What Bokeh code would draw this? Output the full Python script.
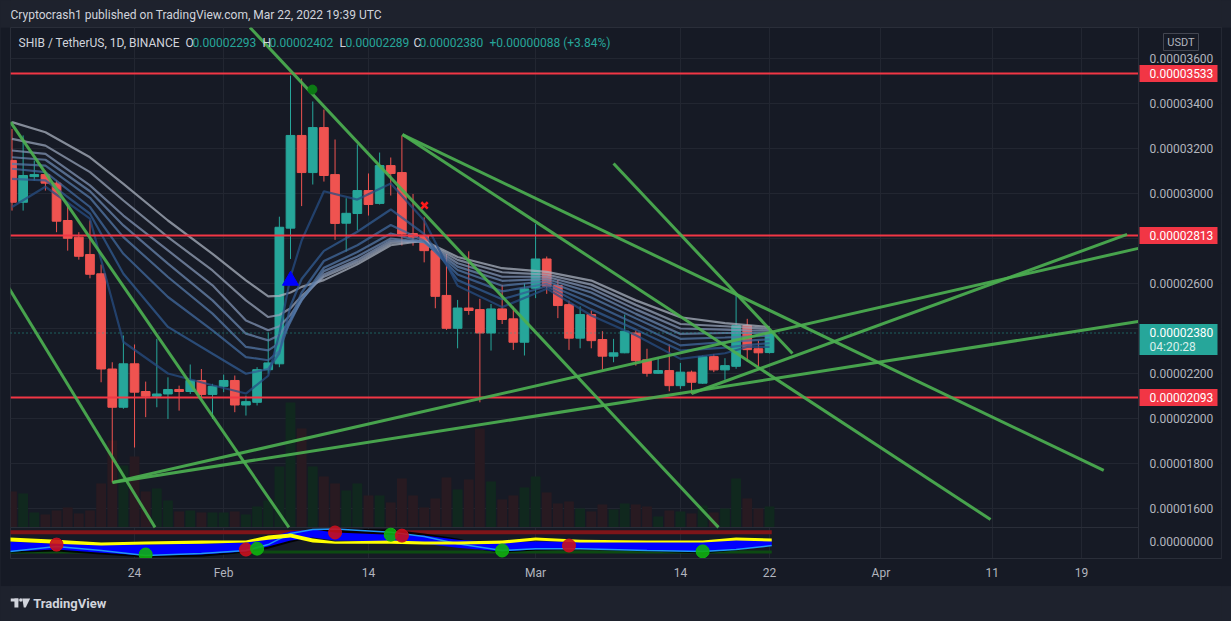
import numpy as np
from bokeh.plotting import figure
from bokeh.layouts import column
from bokeh.models import Range1d, FixedTicker, CustomJSTickFormatter, ColumnDataSource
from bokeh.core.properties import value
from bokeh.embed import file_html
from bokeh.resources import INLINE

# ---------------- data (prices in units of 1e-8 USDT) ----------------
# day index 0 = 13 Jan 2022 ... 68 = 22 Mar 2022
OPEN = [3147, 2961, 3075, 3084, 3046, 2880, 2806, 2729, 2643, 2220,
        2050, 2243, 2120, 2099, 2109, 2129, 2120, 2169, 2107, 2143,
        2169, 2060, 2072, 2217, 2243, 2846, 3258, 3093, 3293, 3084,
        2868, 2911, 3013, 2956, 3124, 3093, 2822, 2813, 2746, 2547,
        2401, 2491, 2484, 2380, 2487, 2443, 2339, 2579, 2709, 2591,
        2506, 2357, 2462, 2351, 2277, 2292, 2380, 2261, 2201, 2213,
        2146, 2206, 2157, 2275, 2216, 2232, 2413, 2310, 2293]
HIGH = [3287, 3258, 3147, 3102, 3058, 2954, 2828, 2880, 2684, 2250,
        2369, 2329, 2164, 2354, 2183, 2146, 2240, 2220, 2154, 2195,
        2191, 2102, 2228, 2383, 2897, 3524, 3511, 3409, 3373, 3240,
        2979, 3218, 3089, 3182, 3160, 3258, 2998, 2894, 2768, 2731,
        2527, 2743, 2532, 2509, 2594, 2497, 2601, 2865, 2720, 2616,
        2524, 2498, 2480, 2388, 2354, 2462, 2391, 2310, 2272, 2329,
        2247, 2213, 2280, 2287, 2268, 2554, 2443, 2346, 2402]
LOW = [2924, 2924, 3058, 3013, 2828, 2746, 2706, 2623, 2161, 1716,
       2043, 1871, 2006, 2050, 1998, 2035, 2109, 2087, 1998, 2117,
       2028, 2013, 2058, 2199, 2228, 2709, 2944, 3040, 3053, 2794,
       2742, 2836, 2902, 2951, 2991, 2769, 2768, 2694, 2490, 2394,
       2312, 2461, 2072, 2302, 2420, 2305, 2280, 2535, 2554, 2446,
       2305, 2312, 2312, 2217, 2250, 2290, 2235, 2186, 2198, 2121,
       2132, 2110, 2154, 2206, 2172, 2221, 2253, 2232, 2289]
CLOSE = [2961, 3080, 3084, 3046, 2877, 2801, 2721, 2641, 2220, 2050,
         2243, 2117, 2099, 2109, 2129, 2120, 2169, 2107, 2143, 2169,
         2060, 2075, 2217, 2247, 2850, 3258, 3093, 3293, 3080, 2867,
         2912, 3013, 2951, 3124, 3089, 2820, 2806, 2746, 2543, 2401,
         2491, 2480, 2380, 2487, 2440, 2339, 2576, 2709, 2588, 2502,
         2357, 2462, 2346, 2277, 2292, 2388, 2257, 2201, 2213, 2146,
         2206, 2161, 2275, 2216, 2235, 2413, 2306, 2292, 2380]
VOLUME = [3.6, 3.4, 1.5, 1.3, 1.7, 2.0, 1.4, 1.7, 4.4, 8.7,
          6.2, 7.1, 3.6, 3.9, 2.7, 1.6, 1.7, 1.5, 1.5, 1.5,
          1.6, 1.3, 2.1, 2.7, 6.1, 12.5, 9.9, 6.1, 5.1, 4.4,
          3.7, 4.4, 3.2, 3.2, 2.5, 4.9, 3.2, 2.0, 2.9, 5.0,
          3.8, 4.8, 9.9, 4.6, 2.8, 3.2, 4.0, 5.1, 3.5, 2.4,
          2.6, 1.9, 1.6, 2.3, 1.8, 2.4, 2.3, 2.1, 1.1, 1.7,
          1.6, 1.4, 2.2, 1.5, 1.9, 4.9, 2.9, 1.9, 2.1]

DATE_TICKS = [11, 19, 32, 47, 60, 68, 78, 88, 96]
DATE_LABELS = ["24", "Feb", "14", "Mar", "14", "22", "Apr", "11", "19"]
PRICE_TICKS = [1600, 1800, 2000, 2200, 2400, 2600, 2800, 3000, 3200, 3400, 3600]
HIDDEN_TICKS = [2400, 2800]          # covered by the price tags

LEVELS = [3533, 2813, 2093]
LAST_PRICE = 2380
COUNTDOWN = "04:20:28"

# EMA ribbon (8 lines, slow/light -> fast/dark), read at these day indices
RIBBON_IDX = [0, 3, 7, 10, 14, 18, 21, 23, 24, 25, 26, 28, 31, 34, 37, 40, 44, 48, 52, 56, 60, 64, 66, 68]
RIB1 = [3317, 3272, 3161, 3043, 2880, 2732, 2614, 2543, 2545, 2560, 2585, 2615, 2685, 2770, 2790, 2718, 2668, 2652, 2613, 2525, 2450, 2424, 2415, 2406]
RIB2 = [3243, 3213, 3095, 2969, 2806, 2658, 2525, 2451, 2460, 2490, 2545, 2630, 2695, 2780, 2788, 2705, 2650, 2640, 2595, 2505, 2420, 2410, 2404, 2398]
RIB3 = [3191, 3176, 3036, 2902, 2747, 2592, 2436, 2392, 2410, 2460, 2530, 2640, 2705, 2790, 2786, 2690, 2630, 2630, 2578, 2485, 2400, 2395, 2392, 2390]
RIB4 = [3161, 3150, 3010, 2858, 2688, 2525, 2377, 2347, 2370, 2440, 2525, 2655, 2720, 2800, 2784, 2675, 2612, 2620, 2560, 2465, 2376, 2380, 2380, 2380]
RIB5 = [3132, 3124, 2981, 2806, 2629, 2466, 2318, 2303, 2335, 2430, 2530, 2670, 2740, 2822, 2784, 2660, 2590, 2610, 2538, 2445, 2354, 2360, 2364, 2368]
RIB6 = [3110, 3095, 2940, 2732, 2540, 2392, 2273, 2259, 2300, 2440, 2560, 2700, 2770, 2860, 2790, 2640, 2565, 2598, 2512, 2420, 2325, 2340, 2346, 2352]
RIB7 = [3065, 3058, 2910, 2643, 2407, 2288, 2199, 2220, 2290, 2500, 2620, 2745, 2830, 2929, 2820, 2615, 2530, 2588, 2485, 2395, 2302, 2315, 2326, 2335]
RIB8 = [2940, 3030, 2888, 2340, 2200, 2148, 2111, 2190, 2377, 2630, 2791, 3010, 2973, 3044, 2880, 2590, 2495, 2577, 2458, 2370, 2265, 2290, 2318, 2318]
RIBBON = [RIB1, RIB2, RIB3, RIB4, RIB5, RIB6, RIB7, RIB8]

# drawn trend lines (day index, price)
TREND_X0 = [-0.31, -0.13, 21.36, 35.05, 35.05, 54.0, 9.02, 9.02, 61.0]
TREND_P0 = [2582, 3317, 3738, 3262, 3262, 3133, 1716, 1716, 2111]
TREND_X1 = [12.84, 24.86, 63.42, 98.0, 87.84, 70.06, 101.1, 101.1, 100.1]
TREND_P1 = [1516, 1516, 1516, 1769, 1551, 2289, 2756, 2431, 2818]

BUY_I, BUY_P = [25], [2613]
GDOT_I, GDOT_P = [26.97], [3462]
SELL_I, SELL_P = [37.03], [2947]

# lower oscillator pane (arbitrary units, 0 = centre line)
IND_I = [-0.2, 4, 8, 12, 17, 21, 23, 25, 27, 29, 34, 37, 40, 44, 47, 51, 57, 62, 65, 68.2]
YEL_TOP = [13, 6, -3, 0, 3, 3, 19, 26, 10, 0, 3, 0, 0, 3, 13, 6, 3, 3, 13, 10]
YEL_BOT = [0, -7, -13, -10, -7, -3, 6, 13, -3, -7, -7, -10, -10, -7, 3, -3, -3, -3, 3, 0]
BLUE_TOP = [0, -7, -10, -10, -7, -3, 13, 32, 39, 29, 22, 19, 6, -3, 0, 0, 0, 0, 6, 6]
BLUE_BOT = [-32, -26, -36, -45, -42, -32, -16, 3, 13, 3, 0, -7, -20, -32, -26, -23, -29, -32, -26, -13]
BLACK_TOP = [-29, -23, -32, -39, -36, -26, -7, 16, 32, 42, 39, 26, 10, -23, -16, -13, -16, -23, -16, -7]
BLACK_BOT = [-36, -32, -42, -52, -49, -36, -23, -3, 13, 26, 19, 3, -16, -36, -29, -26, -32, -39, -29, -13]
LBLUE = [-32, -16, -29, -45, -39, -29, -10, 26, 39, 40, 30, 16, -7, -29, -23, -23, -29, -32, -26, -13]
IND_OB, IND_OS = 30, -34
DOT_I = [4, 12, 21, 22, 29, 34, 35, 44, 50, 62]
DOT_V = [-10, -42, -26, -23, 29, 22, 19, -29, -13, -32]
DOT_SIDE = ["sell", "buy", "sell", "buy", "sell", "buy", "sell", "buy", "sell", "buy"]

HEADER = "Cryptocrash1 published on TradingView.com, Mar 22, 2022 19:39 UTC"
LEGEND = [("SHIB / TetherUS, 1D, BINANCE", "name"), ("O", "name"), ("0.00002293", "val"),
          ("H", "name"), ("0.00002402", "val"), ("L", "name"), ("0.00002289", "val"),
          ("C", "name"), ("0.00002380", "val"), ("+0.00000088 (+3.84%)", "val")]
LEGEND_PX = [18, 185, 192, 262, 269, 339, 345, 413, 419, 489]

# ---------------- styling / geometry ----------------
OUTER = "#1e222d"
PANE = "#161a25"
GRID = "#222631"
BORDER = "#2a2e39"
TXT = "#b2b5be"
UP = "#26a69a"
DN = "#ef5350"
TAG_RED = "#f23645"
FONT = "Roboto"
W = 1231
H_HEAD, H_MAIN, H_FOOT = 27, 559, 35
STRIP_SHIFT = 10        # the axis-less strips render with a 10 px inset

X_PX0, X_STEP = 11.5, 11.14               # page px of day 0, px per day
P_REF, Y_PX_REF, Y_SCALE = 3600, 58, 0.225  # price 3600 at page y 58, px per price unit


def px2x(px):
    return (px - X_PX0) / X_STEP


def py2p(py):
    return P_REF - (py - Y_PX_REF) / Y_SCALE


FR_L, FR_R, FR_T, FR_B = 10, 1221, 27, 558    # frame (page px); price scale sits inside it
AXIS_PX = 1138
VOL_BASE_PX, IND_ZERO_PX = 527, 541
AXIS_X = px2x(AXIS_PX)

x_range = Range1d(px2x(FR_L), px2x(FR_R))
y_range = Range1d(py2p(FR_B), py2p(FR_T))
vol_range = Range1d(-(FR_B - VOL_BASE_PX) * 0.1, (VOL_BASE_PX - FR_T) * 0.1)
ind_range = Range1d(-(FR_B - IND_ZERO_PX) * 100 / 31, (IND_ZERO_PX - FR_T) * 100 / 31)

p = figure(width=W, height=H_MAIN, x_range=x_range, y_range=y_range,
           y_axis_location="right", toolbar_location=None, output_backend="svg",
           min_border_left=FR_L, min_border_right=W - FR_R, min_border_top=0,
           min_border_bottom=H_MAIN - (FR_B - FR_T),
           background_fill_color=PANE, border_fill_color=PANE, outline_line_color=BORDER)
p.extra_y_ranges = {"vol": vol_range, "ind": ind_range}

z = y_range.start + (0 - ind_range.start) / (ind_range.end - ind_range.start) * (y_range.end - y_range.start)

shown_ticks = [t for t in PRICE_TICKS if t not in HIDDEN_TICKS]
p.yaxis.ticker = FixedTicker(ticks=shown_ticks + [z])
p.yaxis.formatter = CustomJSTickFormatter(args=dict(z=z),
                                          code="return Math.abs(tick - z) < 0.5 ? '0.00000000' : (tick / 1e8).toFixed(8);")
p.xaxis.ticker = FixedTicker(ticks=DATE_TICKS)
p.xaxis.major_label_overrides = {t: s for t, s in zip(DATE_TICKS, DATE_LABELS)}
for ax in (p.xaxis, p.yaxis):
    ax.major_tick_line_color = None
    ax.minor_tick_line_color = None
    ax.major_tick_out = 0
    ax.major_tick_in = 0
    ax.minor_tick_out = 0
    ax.major_label_text_color = TXT
    ax.major_label_text_font = FONT
    ax.major_label_text_font_size = "12px"
p.xaxis.axis_line_color = BORDER
p.yaxis.axis_line_color = None
p.yaxis.major_label_standoff = 1149 - FR_R     # labels start at page x 1149 (inside the axis strip)
p.xaxis.major_label_standoff = 7
p.xgrid.ticker = FixedTicker(ticks=DATE_TICKS)
p.ygrid.ticker = FixedTicker(ticks=PRICE_TICKS)
p.grid.grid_line_color = GRID

o = np.array(OPEN); c = np.array(CLOSE)
colors = [UP if cc >= oo else DN for oo, cc in zip(OPEN, CLOSE)]
vcolors = ["#10281e" if cc >= oo else "#281a21" for oo, cc in zip(OPEN, CLOSE)]
src = ColumnDataSource(dict(i=list(range(len(OPEN))), h=HIGH, l=LOW,
                            top=np.maximum(o, c), bot=np.minimum(o, c),
                            color=colors, vol=VOLUME, vcolor=vcolors))

# volume
p.vbar(x="i", width=0.88, top="vol", bottom=0, y_range_name="vol",
       fill_color="vcolor", line_color=None, source=src)
p.segment(x0=[x_range.start], x1=[AXIS_X], y0=[0], y1=[0], y_range_name="vol", line_color=BORDER, line_width=1)

# candles
p.segment(x0="i", y0="h", x1="i", y1="l", line_color="color", line_width=1, source=src)
p.vbar(x="i", width=0.78, top="top", bottom="bot", fill_color="color", line_color="color", source=src)

# ribbon
RIB_COLORS = ["#a9b1bf", "#95a1b7", "#8093b3", "#6a86ae", "#5478a7", "#416a9e", "#315c93", "#274d83"]
for line, col in zip(RIBBON, RIB_COLORS):
    p.line(RIBBON_IDX, line, line_color=col, line_width=2.2, line_alpha=0.75)

# horizontal levels (to the price scale edge)
n = len(LEVELS)
p.segment(x0=[x_range.start] * n, x1=[AXIS_X] * n, y0=LEVELS, y1=LEVELS, line_color=TAG_RED, line_width=2)
p.segment(x0=[x_range.start], x1=[AXIS_X], y0=[LAST_PRICE], y1=[LAST_PRICE],
          line_color=UP, line_width=1, line_dash="1 3")

# trend lines
p.segment(TREND_X0, TREND_P0, TREND_X1, TREND_P1, line_color="#4caf50", line_width=3, line_alpha=0.92)

# signal markers
p.scatter(BUY_I, BUY_P, marker="triangle", size=16, fill_color="#0000ff", line_color="#0000ff")
p.scatter(GDOT_I, GDOT_P, marker="circle", size=9, fill_color="#0c7a14", line_color="#0c7a14")
p.scatter(SELL_I, SELL_P, marker="x", size=9, line_color="#ff1a1a", line_width=2.5)

# oscillator pane
p.line([IND_I[0], IND_I[-1]], [IND_OB, IND_OB], y_range_name="ind", line_color="#7e1519", line_width=4)
p.line([IND_I[0], IND_I[-1]], [IND_OS, IND_OS], y_range_name="ind", line_color="#0d4a12", line_width=3)
p.varea(x=IND_I, y1=BLACK_BOT, y2=BLACK_TOP, y_range_name="ind", fill_color="#000000", fill_alpha=0.9)
p.varea(x=IND_I, y1=BLUE_BOT, y2=BLUE_TOP, y_range_name="ind", fill_color="#0000ff")
p.line(IND_I, LBLUE, y_range_name="ind", line_color="#2196f3", line_width=1.5)
p.varea(x=IND_I, y1=YEL_BOT, y2=YEL_TOP, y_range_name="ind", fill_color="#ffff00")
dot_colors = ["#c8101e" if s == "sell" else "#10b010" for s in DOT_SIDE]
p.scatter(DOT_I, DOT_V, y_range_name="ind", marker="circle", size=13,
          fill_color=dot_colors, line_color=dot_colors, fill_alpha=0.9)

# legend row inside the pane
p.text(x=[px2x(v) for v in LEGEND_PX], y=[py2p(42)] * len(LEGEND),
       text=[t for t, _ in LEGEND],
       text_color=["#d1d4dc" if k == "name" else UP for _, k in LEGEND],
       text_font=value(FONT), text_font_size="12px", text_baseline="middle", text_align="left")

# price-scale strip: background, separator, tags
p.quad(left=[AXIS_X], right=[x_range.end], bottom=[y_range.start], top=[y_range.end],
       fill_color=PANE, line_color=None)
p.segment(x0=[AXIS_X], x1=[AXIS_X], y0=[y_range.start], y1=[y_range.end], line_color=BORDER, line_width=1)
p.rect(x=[px2x(1178)] * n, y=LEVELS, width=78, height=17, width_units="screen", height_units="screen",
       fill_color=TAG_RED, line_color=None)
p.text(x=[px2x(1149)] * n, y=LEVELS, text=["%.8f" % (lv / 1e8) for lv in LEVELS],
       text_color="#ffffff", text_font=value(FONT), text_font_size="12px", text_baseline="middle")
p.rect(x=[px2x(1178)], y=[py2p(339)], width=78, height=31, width_units="screen", height_units="screen",
       fill_color=UP, line_color=None)
p.text(x=[px2x(1149)], y=[py2p(332)], text=["%.8f" % (LAST_PRICE / 1e8)],
       text_color="#ffffff", text_font=value(FONT), text_font_size="12px", text_baseline="middle")
p.text(x=[px2x(1149)], y=[py2p(346)], text=[COUNTDOWN],
       text_color="#d8efec", text_font=value(FONT), text_font_size="12px", text_baseline="middle")
p.rect(x=[px2x(1180.5)], y=[py2p(41.5)], width=35, height=17, width_units="screen", height_units="screen",
       fill_color=None, line_color="#434651", line_width=1)
p.text(x=[px2x(1180.5)], y=[py2p(41.5)], text=["USDT"], text_color=TXT, text_font=value(FONT),
       text_font_size="11px", text_align="center", text_baseline="middle")


def strip(height):
    f = figure(width=W, height=height, x_range=Range1d(0, W), y_range=Range1d(0, height),
               toolbar_location=None, output_backend="svg",
               min_border=0, min_border_left=0, min_border_right=0,
               min_border_top=0, min_border_bottom=0,
               x_axis_location=None, y_axis_location=None,
               background_fill_color=OUTER, border_fill_color=OUTER, outline_line_color=None)
    f.grid.visible = False
    return f


# header strip
hd = strip(H_HEAD)
hd.text(x=[10 - STRIP_SHIFT], y=[H_HEAD - 14], text=[HEADER], text_color="#d1d4dc", text_font=value(FONT),
        text_font_size="12px", text_baseline="middle")

# footer strip with logo
ft = strip(H_FOOT)
s = STRIP_SHIFT
ft.quad(left=[10 - s, 14 - s], right=[18 - s, 18 - s], top=[23, 23], bottom=[20, 14],
        fill_color="#d1d4dc", line_color=None)
ft.scatter([20.5 - s], [21.5], marker="circle", size=3.5, fill_color="#d1d4dc", line_color=None)
ft.patch([22 - s, 30 - s, 25.5 - s, 23.5 - s], [23, 23, 14, 14], fill_color="#d1d4dc", line_color=None)
ft.text(x=[33 - s], y=[H_FOOT - 17], text=["TradingView"], text_color="#d1d4dc", text_font=value(FONT),
        text_font_size="13px", text_font_style="bold", text_baseline="middle")

layout = column(hd, p, ft, spacing=0)
html = file_html(layout, INLINE, title="SHIB / TetherUS")
html = html.replace("</head>", "<style>html, body { background-color: #1e222d; margin: 0; padding: 0; }</style></head>", 1)
open("out.html", "w").write(html)
